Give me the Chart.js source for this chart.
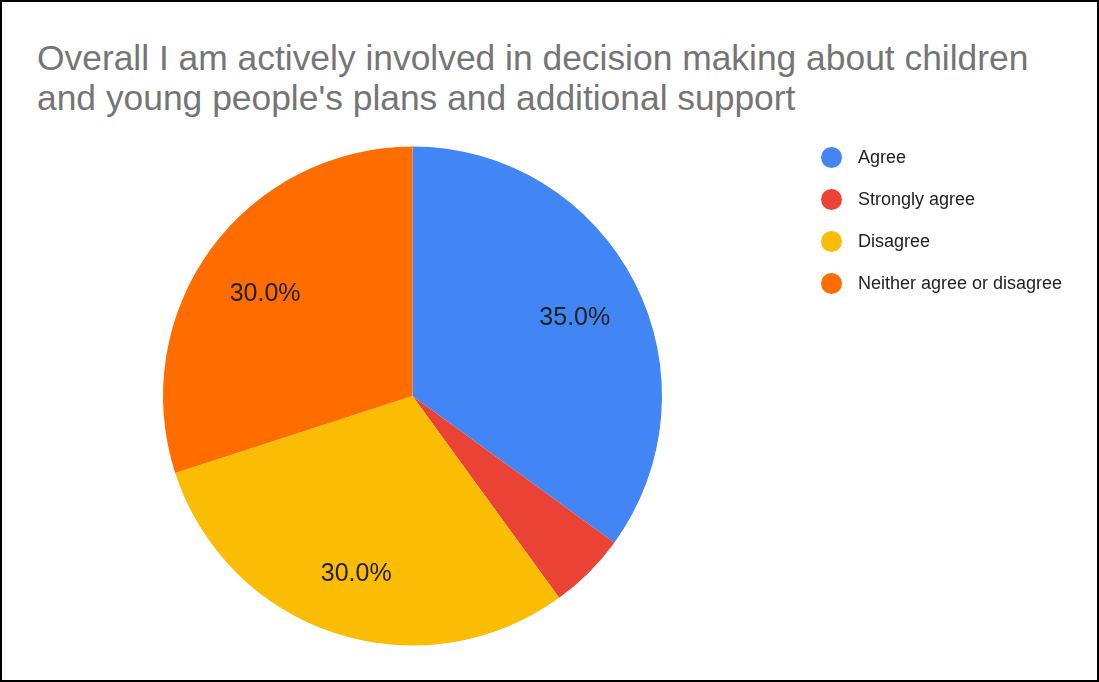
<!DOCTYPE html>
<html>
<head>
<meta charset="utf-8">
<title>Decision making survey</title>
<script src="https://cdn.jsdelivr.net/npm/chart.js"></script>
<style>
    html, body {
        margin: 0;
        padding: 0;
        background: #fff;
    }
    #frame {
        position: relative;
        width: 1099px;
        height: 682px;
        box-sizing: border-box;
        border: 2px solid #000;
        overflow: hidden;
        font-family: "Liberation Sans", Arial, sans-serif;
    }
    #title {
        position: absolute;
        left: 35px;
        top: 36px;
        margin: 0;
        font-size: 35.4px;
        font-weight: normal;
        line-height: 40px;
        color: #757575;
        white-space: nowrap;
    }
    #chart-wrap {
        position: absolute;
        left: -2px;
        top: -2px;
        width: 1099px;
        height: 682px;
    }
    #legend {
        position: absolute;
        left: 819px;
        top: 134px;
        margin: 0;
        padding: 0;
        list-style: none;
    }
    #legend li {
        display: flex;
        align-items: center;
        height: 42px;
        font-size: 18px;
        color: #222;
    }
    #legend .dot {
        width: 21px;
        height: 21px;
        border-radius: 50%;
        margin-right: 16px;
    }
</style>
</head>
<body>
<div id="frame">
    <h1 id="title"></h1>
    <div id="chart-wrap"><canvas id="pie-chart" width="1099" height="682"></canvas></div>
    <ul id="legend"></ul>
</div>
<script>
    const titleLines = [
        'Overall I am actively involved in decision making about children',
        "and young people's plans and additional support"
    ];
    const labels = ['Agree', 'Strongly agree', 'Disagree', 'Neither agree or disagree'];
    const shares = [35, 5, 30, 30];
    const colors = ['#4285f4', '#ea4335', '#fbbc04', '#ff6d01'];

    document.getElementById('title').innerHTML = titleLines.join('<br>');

    // Legend list
    const legend = document.getElementById('legend');
    labels.forEach((label, i) => {
        const li = document.createElement('li');
        const dot = document.createElement('span');
        dot.className = 'dot';
        dot.style.background = colors[i];
        li.appendChild(dot);
        li.appendChild(document.createTextNode(label));
        legend.appendChild(li);
    });

    // Percent labels drawn inside the larger slices
    const sliceLabels = {
        id: 'sliceLabels',
        afterDatasetsDraw(chart) {
            const ctx = chart.ctx;
            const meta = chart.getDatasetMeta(0);
            const total = shares.reduce((a, b) => a + b, 0);
            ctx.save();
            ctx.font = '25px "Liberation Sans", Arial, sans-serif';
            ctx.fillStyle = '#222';
            ctx.textAlign = 'center';
            ctx.textBaseline = 'middle';
            meta.data.forEach((arc, i) => {
                const pct = shares[i] / total * 100;
                if (pct < 10) return;
                const p = arc.getProps(['x', 'y', 'startAngle', 'endAngle', 'outerRadius'], true);
                const mid = (p.startAngle + p.endAngle) / 2;
                const r = p.outerRadius * 0.73;
                ctx.fillText(pct.toFixed(1) + '%', p.x + Math.cos(mid) * r, p.y + Math.sin(mid) * r + 5);
            });
            ctx.restore();
        }
    };

    new Chart(document.getElementById('pie-chart'), {
        type: 'pie',
        data: {
            labels: labels,
            datasets: [{
                data: shares,
                backgroundColor: colors,
                borderWidth: 0
            }]
        },
        options: {
            responsive: false,
            animation: false,
            layout: {
                padding: { left: 163, top: 146, right: 437, bottom: 36 }
            },
            plugins: {
                legend: { display: false },
                title: { display: false },
                tooltip: { enabled: false }
            }
        },
        plugins: [sliceLabels]
    });
</script>
</body>
</html>
